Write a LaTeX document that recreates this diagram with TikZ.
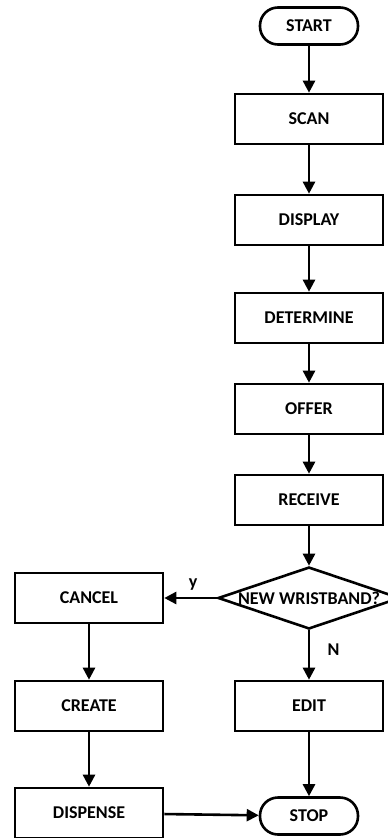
\documentclass[tikz,border=0pt]{standalone}
\usepackage{fontspec}
\setmainfont{Carlito}
\usetikzlibrary{arrows.meta,shapes.geometric}
\begin{document}
\begin{tikzpicture}[x=1pt,y=-1pt,
  every node/.style={font=\fontsize{18}{20}\selectfont\bfseries},
  box/.style={draw,line width=2.6pt,minimum width=148pt,minimum height=50pt,inner sep=0pt},
  term/.style={draw,line width=2.6pt,rounded corners=18pt,minimum width=98pt,minimum height=37pt,inner sep=0pt},
  dec/.style={draw,diamond,line width=2.6pt,aspect=3,minimum width=182pt,minimum height=62pt,inner sep=0pt},
  arr/.style={line width=2.6pt,-{Triangle[length=12pt,width=12pt]}}]
\useasboundingbox (0,0) rectangle (388,838);
\node[term] (start) at (309,26) {START};
\node[box] (scan) at (309,119) {SCAN};
\node[box] (display) at (309,220) {DISPLAY};
\node[box] (determine) at (309,318) {DETERMINE};
\node[box] (offer) at (309,409) {OFFER};
\node[box] (receive) at (309,500) {RECEIVE};
\node[dec] (new) at (309,598) {NEW WRISTBAND?};
\node[box] (cancel) at (89,598) {CANCEL};
\node[box] (create) at (89,706) {CREATE};
\node[box] (dispense) at (89,813) {DISPENSE};
\node[box] (edit) at (309,706) {EDIT};
\node[term] (stop) at (309,816) {STOP};
\draw[arr] (start) -- (scan);
\draw[arr] (scan) -- (display);
\draw[arr] (display) -- (determine);
\draw[arr] (determine) -- (offer);
\draw[arr] (offer) -- (receive);
\draw[arr] (receive) -- (new);
\draw[arr] (new) -- node[above=3pt,pos=0.45] (ylab) {y} (cancel);
\draw[arr] (new) -- node[right=14pt,pos=0.4] (nlab) {N} (edit);
\draw[arr] (cancel) -- (create);
\draw[arr] (create) -- (dispense);
\draw[arr] (edit) -- (stop);
\draw[arr] (dispense) -- (stop);
\end{tikzpicture}
\end{document}
